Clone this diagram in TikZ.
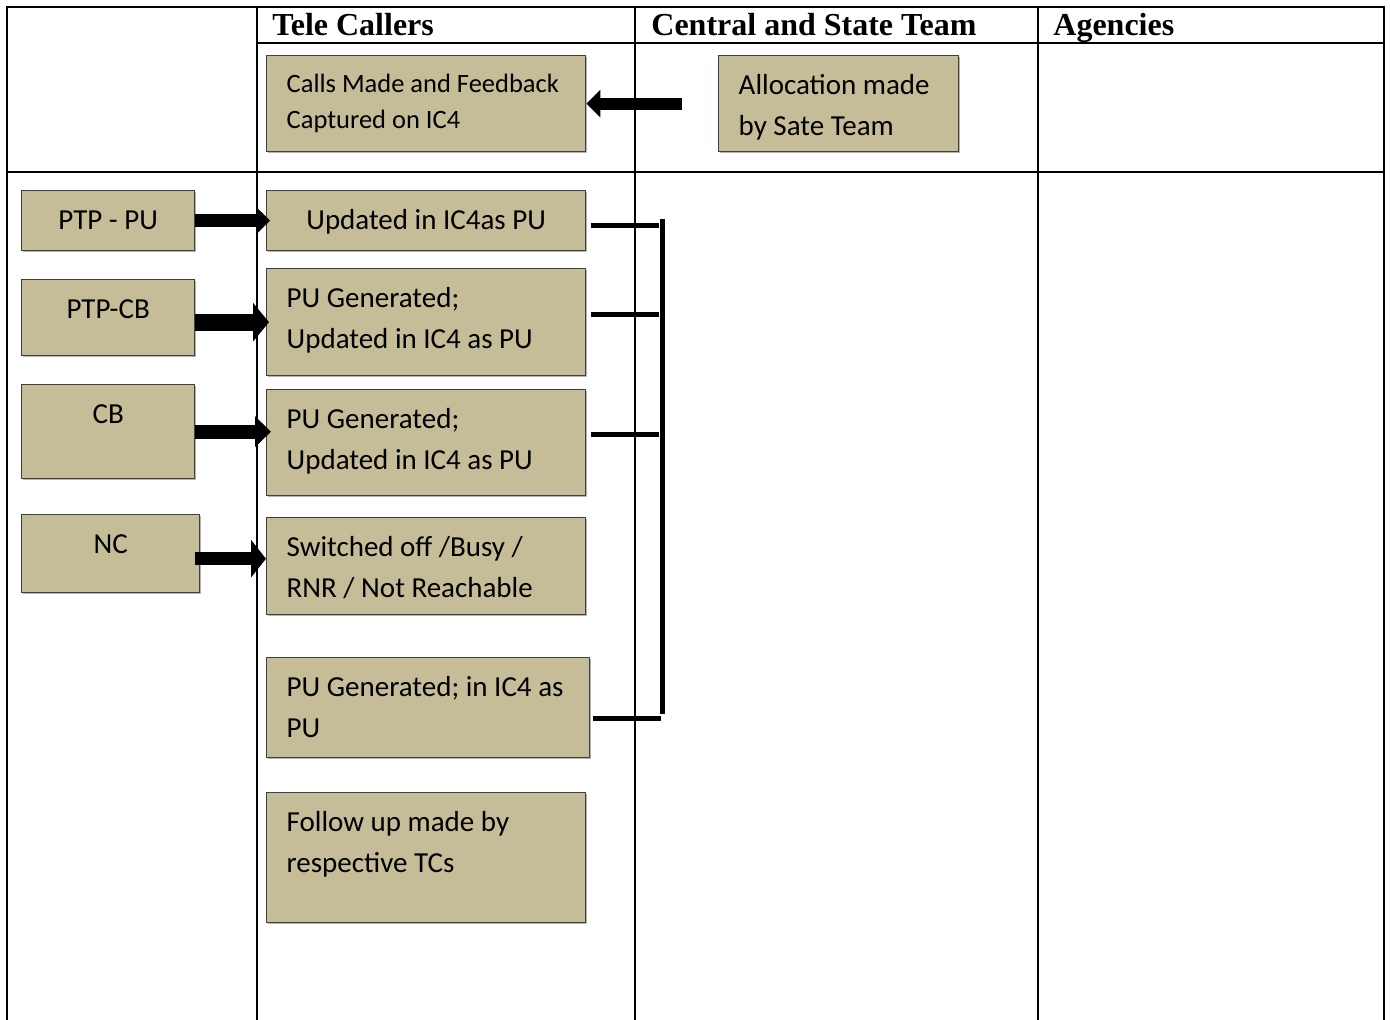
\documentclass[tikz,border=0pt]{standalone}
\usepackage{fontspec}
\setmainfont{Liberation Serif}
\newfontfamily\calibri{Carlito}
\usetikzlibrary{arrows.meta,shadows}
\definecolor{boxtan}{RGB}{196,189,151}
\definecolor{boxline}{RGB}{64,64,64}

\begin{document}
\begin{tikzpicture}[x=0.5pt,y=-0.5pt,
  grid/.style={line width=1pt},
  head/.style={anchor=base west,inner sep=0pt,font=\bfseries\fontsize{16pt}{19pt}\selectfont},
  tbox/.style={draw=boxline,fill=boxtan,line width=0.7pt,anchor=north west,
    inner xsep=10pt,inner ysep=0pt,text height=19.5pt,align=flush left,
    font=\calibri\fontsize{14.5pt}{20.5pt}\selectfont,
    drop shadow={shadow xshift=0.7pt,shadow yshift=-0.7pt,opacity=0.6}},
  fatarrow/.style={line width=6.5pt,-{Triangle[length=7pt,width=13.5pt]}},
  busline/.style={line width=2.5pt}]
\useasboundingbox (0,0) rectangle (1390,1020);
% table
\draw[grid] (7,1020) -- (7,7) -- (1384,7) -- (1384,1020);
\draw[grid] (257,7) -- (257,1020);
\draw[grid] (635,7) -- (635,1020);
\draw[grid] (1038,7) -- (1038,1020);
\draw[grid] (257,43) -- (1384,43);
\draw[grid] (7,172) -- (1384,172);
\node[head] (hdtc) at (272,36) {Tele Callers};
\node[head] (hdcst) at (651,36) {Central and State Team};
\node[head] (hdag) at (1053,36) {Agencies};
% boxes
\node[tbox,text width=139.5pt,text height=18.5pt,text depth=29.5pt,
  font=\calibri\fontsize{13.25pt}{18pt}\selectfont] (calls) at (266,55)
  {Calls Made and Feedback\\Captured on IC4};
\node[tbox,text width=100pt,text depth=28.5pt] (alloc) at (718,55)
  {Allocation made\\by Sate Team};
\node[tbox,align=flush center,text width=66.5pt,text depth=10.5pt] (ptppu) at (21,190) {PTP - PU};
\node[tbox,align=flush center,text width=66.5pt,text depth=18.5pt] (ptpcb) at (21,279) {PTP-CB};
\node[tbox,align=flush center,text width=66.5pt,text depth=27.5pt] (cb) at (21,384) {CB};
\node[tbox,align=flush center,text width=69pt,text depth=19.5pt] (nc) at (21,514) {NC};
\node[tbox,align=flush center,text width=139.5pt,text depth=10.5pt] (upd1) at (266,190)
  {Updated in IC4as PU};
\node[tbox,text width=139.5pt,text depth=34pt] (pug1) at (266,268)
  {PU Generated;\\Updated in IC4 as PU};
\node[tbox,text width=139.5pt,text depth=33.5pt] (pug2) at (266,389)
  {PU Generated;\\Updated in IC4 as PU};
\node[tbox,text width=139.5pt,text depth=29pt] (sw) at (266,517)
  {Switched off /Busy /\\RNR / Not Reachable};
\node[tbox,text width=141.5pt,text depth=30.5pt] (pug3) at (266,657)
  {PU Generated; in IC4 as\\PU};
\node[tbox,text width=139.5pt,text depth=45.5pt] (follow) at (266,792)
  {Follow up made by\\respective TCs};
% arrows
\draw[fatarrow,line width=6pt] ([xshift=-18pt]alloc.west) -- (calls.east);
\draw[fatarrow] (ptppu.east) -- ([xshift=2pt]upd1.west);
\draw[fatarrow,line width=8.5pt,-{Triangle[length=8pt,width=19pt]}]
  (ptpcb.east |- pug1.west) -- ([xshift=1.5pt]pug1.west);
\draw[fatarrow,line width=7pt,-{Triangle[length=8pt,width=15pt]}]
  (cb.east) -- ([xshift=2.5pt]cb.east -| pug2.west);
\draw[fatarrow,-{Triangle[length=7.5pt,width=18.5pt]}]
  ([xshift=-2.5pt,yshift=-2.5pt]nc.east) -- ([yshift=-2.5pt]nc.east -| sw.west);
% bracket
\coordinate (bustop) at (662,219);
\coordinate (busbot) at (662,714);
\draw[busline] (bustop) -- (busbot);
\draw[busline] (upd1.east) ++(5,5) -- +(68,0);
\draw[busline] (pug1.east) ++(5,-7.5) -- +(68,0);
\draw[busline] (pug2.east) ++(5,-8) -- +(68,0);
\draw[busline] (pug3.east) ++(3,11) -- +(68,0);
\end{tikzpicture}
\end{document}
